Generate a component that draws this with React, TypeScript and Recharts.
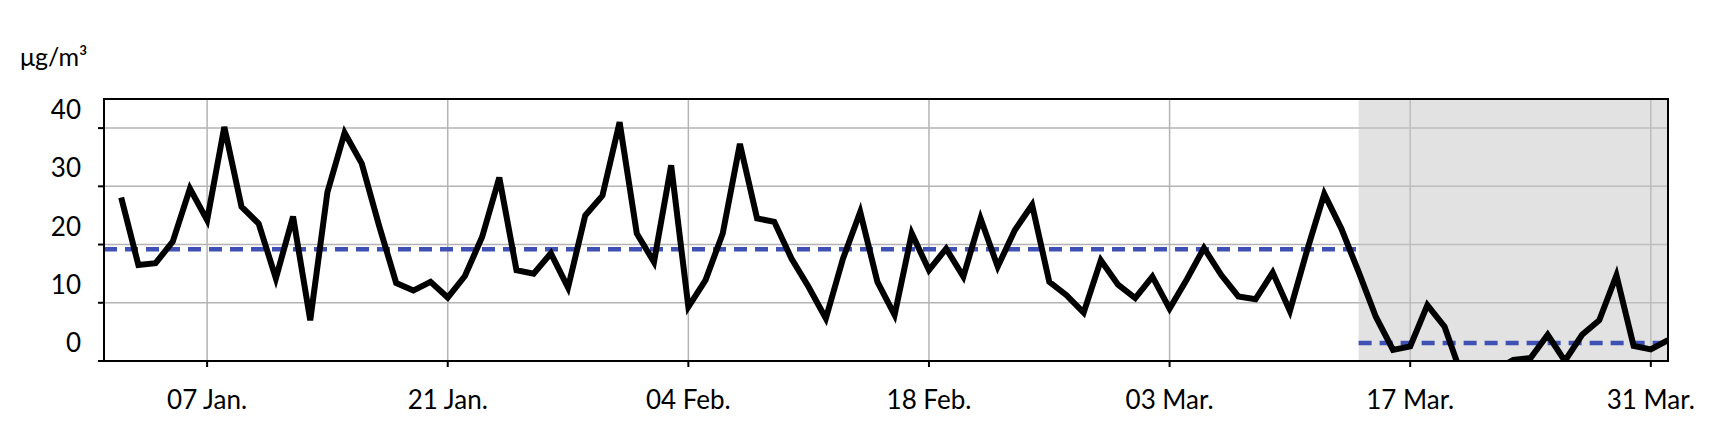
import { LineChart, Line, XAxis, YAxis, CartesianGrid, ReferenceArea, ReferenceLine } from 'recharts';

// daily values from 02 Jan. (day 1) to 01 Apr. (day 91)
const VALUES = [
    28.1, 16.5, 16.8, 20.5, 29.6, 24.2, 40.2, 26.5, 23.6, 14.2,
    24.8, 7.0, 29.0, 39.2, 33.9, 23.3, 13.4, 12.1, 13.6, 10.9,
    14.6, 21.3, 31.5, 15.6, 15.0, 18.5, 12.6, 25.0, 28.4, 41.0,
    21.9, 17.0, 33.6, 9.3, 13.9, 21.9, 37.3, 24.5, 23.9, 17.6,
    12.7, 7.3, 17.6, 25.6, 13.6, 7.9, 21.9, 15.6, 19.3, 14.5,
    24.5, 16.2, 22.5, 26.8, 13.6, 11.3, 8.3, 17.3, 13.1, 10.8,
    14.5, 9.0, 14.0, 19.4, 14.8, 11.1, 10.6, 15.2, 8.6, 19.0,
    28.7, 22.7, 15.3, 7.6, 1.9, 2.5, 9.6, 5.9, -2.5, -4.0,
    -1.5, 0.2, 0.5, 4.5, 0.0, 4.5, 7.0, 14.7, 2.6, 2.0,
    3.6,
];

const X_TICKS = [6, 20, 34, 48, 62, 76, 90];
const X_LABELS = ['07 Jan.', '21 Jan.', '04 Feb.', '18 Feb.', '03 Mar.', '17 Mar.', '31 Mar.'];
const Y_TICKS = [0, 10, 20, 30, 40];

const X_DOMAIN = [0, 91];
const Y_DOMAIN = [0, 45];

const LOCKDOWN_START = 73;
const MEAN_BEFORE = 19.2;
const MEAN_AFTER = 3.1;

const data = VALUES.map((value, i) => ({ day: i + 1, value }));

const FONT = 'Lato, "Open Sans", sans-serif';

const YTick = ({ x, y, payload }: any) => (
    <text x={x} y={y - 19} textAnchor="end" dominantBaseline="central" fontSize={26} fontFamily={FONT} fill="#000">
        {payload.value}
    </text>
);

export default function App() {
    return (
        <div style={{ position: 'relative', width: 1698, height: 427 }}>
            <div
                style={{
                    position: 'absolute',
                    left: 12,
                    top: 36,
                    fontFamily: FONT,
                    fontSize: 25,
                    lineHeight: '24px',
                    color: '#000',
                }}
            >
                μg/m³
            </div>
            <LineChart width={1698} height={427} data={data} margin={{ top: 91, right: 38, bottom: 0, left: 0 }}>
                <CartesianGrid stroke="#b4b4b4" strokeWidth={1.5} />
                <ReferenceArea
                    x1={LOCKDOWN_START}
                    x2={X_DOMAIN[1]}
                    y1={Y_DOMAIN[0]}
                    y2={Y_DOMAIN[1]}
                    fill="#c6c6c6"
                    fillOpacity={0.5}
                    stroke="none"
                />
                <ReferenceArea
                    x1={X_DOMAIN[0]}
                    x2={X_DOMAIN[1]}
                    y1={Y_DOMAIN[0]}
                    y2={Y_DOMAIN[1]}
                    fill="none"
                    stroke="#000"
                    strokeWidth={2}
                />
                <XAxis
                    dataKey="day"
                    type="number"
                    domain={X_DOMAIN}
                    ticks={X_TICKS}
                    tickFormatter={(v) => X_LABELS[X_TICKS.indexOf(v)]}
                    interval={0}
                    height={74}
                    tickSize={6}
                    tickMargin={24}
                    stroke="#000"
                    strokeWidth={2}
                    tick={{ fontSize: 26, fontFamily: FONT, fill: '#000' }}
                    allowDataOverflow
                />
                <YAxis
                    type="number"
                    domain={Y_DOMAIN}
                    ticks={Y_TICKS}
                    interval={0}
                    width={96}
                    tickSize={6}
                    tickMargin={17}
                    stroke="#000"
                    strokeWidth={2}
                    tick={<YTick />}
                    allowDataOverflow
                />
                <ReferenceLine
                    segment={[
                        { x: X_DOMAIN[0], y: MEAN_BEFORE },
                        { x: LOCKDOWN_START, y: MEAN_BEFORE },
                    ]}
                    stroke="#3f51b5"
                    strokeWidth={4.5}
                    strokeDasharray="13 8"
                />
                <ReferenceLine
                    segment={[
                        { x: LOCKDOWN_START, y: MEAN_AFTER },
                        { x: X_DOMAIN[1], y: MEAN_AFTER },
                    ]}
                    stroke="#3f51b5"
                    strokeWidth={4.5}
                    strokeDasharray="13 8"
                />
                <Line
                    type="linear"
                    dataKey="value"
                    stroke="#000"
                    strokeWidth={6}
                    dot={false}
                    isAnimationActive={false}
                />
            </LineChart>
        </div>
    );
}
